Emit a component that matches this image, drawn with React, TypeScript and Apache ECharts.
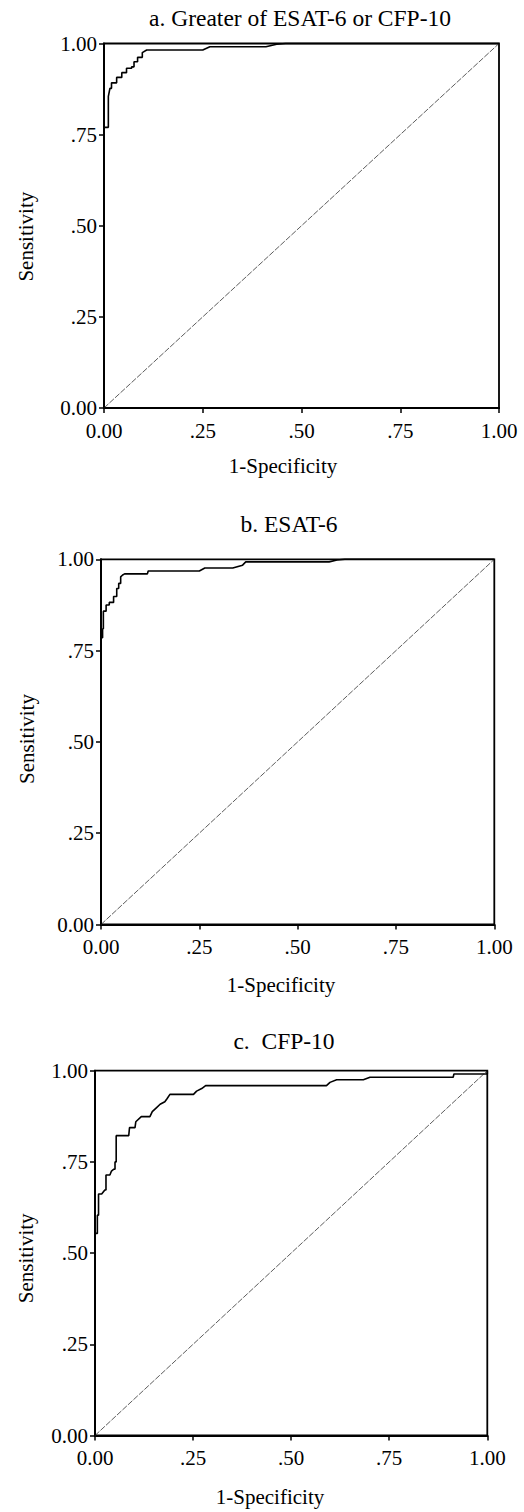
import React, { useEffect, useRef } from "react";
import * as echarts from "echarts";

// Tick positions and their printed labels (shared by both axes of every panel)
const tickValues = [0, 0.25, 0.5, 0.75, 1];
const tickLabels = ["0.00", ".25", ".50", ".75", "1.00"];

const panelTitles = ["a. Greater of ESAT-6 or CFP-10", "b. ESAT-6", "c.  CFP-10"];
const xAxisName = "1-Specificity";
const yAxisName = "Sensitivity";

// ROC curves: [1 - specificity, sensitivity]
const rocGreater: [number, number][] = [
  [0, 0], [0, 0.77], [0.011, 0.77], [0.011, 0.855], [0.015, 0.877], [0.019, 0.877],
  [0.019, 0.892], [0.032, 0.892], [0.032, 0.907], [0.045, 0.907], [0.045, 0.92],
  [0.057, 0.92], [0.057, 0.932], [0.07, 0.932], [0.07, 0.936], [0.076, 0.936],
  [0.076, 0.95], [0.085, 0.95], [0.085, 0.962], [0.097, 0.962], [0.097, 0.975],
  [0.108, 0.982], [0.25, 0.982], [0.268, 0.991], [0.41, 0.991], [0.437, 0.998],
  [0.46, 1], [1, 1],
];

const rocEsat6: [number, number][] = [
  [0, 0], [0, 0.785], [0.004, 0.785], [0.004, 0.81], [0.006, 0.81], [0.006, 0.858],
  [0.013, 0.858], [0.013, 0.875], [0.021, 0.875], [0.021, 0.882], [0.032, 0.882],
  [0.032, 0.898], [0.04, 0.898], [0.04, 0.92], [0.045, 0.92], [0.045, 0.934],
  [0.05, 0.934], [0.05, 0.952], [0.055, 0.957], [0.06, 0.96], [0.118, 0.96],
  [0.12, 0.968], [0.25, 0.968], [0.264, 0.976], [0.335, 0.976], [0.36, 0.984],
  [0.368, 0.993], [0.58, 0.993], [0.6, 0.998], [0.62, 1], [1, 1],
];

const rocCfp10: [number, number][] = [
  [0, 0], [0, 0.554], [0.006, 0.554], [0.006, 0.604], [0.009, 0.604], [0.009, 0.662],
  [0.017, 0.662], [0.025, 0.673], [0.028, 0.673], [0.028, 0.714], [0.038, 0.714],
  [0.042, 0.725], [0.048, 0.73], [0.051, 0.73], [0.051, 0.75], [0.054, 0.75],
  [0.054, 0.822], [0.086, 0.822], [0.088, 0.844], [0.102, 0.844], [0.104, 0.86],
  [0.118, 0.874], [0.14, 0.874], [0.146, 0.888], [0.157, 0.899], [0.166, 0.908],
  [0.178, 0.915], [0.184, 0.924], [0.191, 0.935], [0.251, 0.935], [0.259, 0.944],
  [0.272, 0.951], [0.282, 0.959], [0.59, 0.959], [0.599, 0.968], [0.616, 0.975],
  [0.684, 0.975], [0.701, 0.982], [0.913, 0.982], [0.915, 0.991], [1, 0.991], [1, 1],
];

// Reference line of no discrimination
const chanceLine: [number, number][] = [[0, 0], [1, 1]];

const curves = [rocGreater, rocEsat6, rocCfp10];

// Layout of the three stacked panels (pixels)
const grids = [
  { left: 104, top: 43.5, width: 395, height: 364.5 },
  { left: 101, top: 559.3, width: 393.3, height: 365.2 },
  { left: 95, top: 1070.7, width: 392.3, height: 364.8 },
];
const titlePos = [[300, 17.5], [289, 524], [284, 1041]];
const xNamePos = [[283, 466], [281, 985], [270, 1497]];
const yNamePos = [[25.5, 236.7], [27, 739], [25.8, 1258.3]];

const FONT = '"Liberation Serif", "Times New Roman", serif';

const fmt = (v: number) => tickLabels[tickValues.indexOf(Math.round(v * 4) / 4)] ?? "";

export default function App() {
  const ref = useRef<HTMLDivElement>(null);

  useEffect(() => {
    if (!ref.current) return;
    const chart = echarts.init(ref.current, undefined, { renderer: "svg" });

    const axisCommon = {
      type: "value" as const,
      min: 0,
      max: 1,
      interval: 0.25,
      splitLine: { show: false },
      axisLine: { show: true, onZero: false, lineStyle: { color: "#000", width: 2 } },
      axisTick: { show: true, inside: false, length: 5, lineStyle: { color: "#000", width: 1.5 } },
    };

    const graphic: any[] = [];
    panelTitles.forEach((t, i) => {
      graphic.push({
        type: "text",
        x: titlePos[i][0],
        y: titlePos[i][1],
        style: { text: t, fontSize: 23.5, fontFamily: FONT, fill: "#000", align: "center", verticalAlign: "middle" },
      });
      graphic.push({
        type: "text",
        x: xNamePos[i][0],
        y: xNamePos[i][1],
        style: { text: xAxisName, fontSize: 21, fontFamily: FONT, fill: "#000", align: "center", verticalAlign: "middle" },
      });
      graphic.push({
        type: "text",
        x: yNamePos[i][0],
        y: yNamePos[i][1],
        rotation: Math.PI / 2,
        style: { text: yAxisName, fontSize: 21, fontFamily: FONT, fill: "#000", align: "center", verticalAlign: "middle" },
      });
    });

    const series: any[] = [];
    curves.forEach((c, i) => {
      series.push({
        type: "line",
        xAxisIndex: i,
        yAxisIndex: i,
        data: chanceLine,
        showSymbol: false,
        symbol: "none",
        silent: true,
        lineStyle: { color: "#333", width: 0.8, type: [6, 1.5] },
      });
      series.push({
        type: "line",
        xAxisIndex: i,
        yAxisIndex: i,
        data: c,
        showSymbol: false,
        symbol: "none",
        silent: true,
        clip: false,
        lineStyle: { color: "#000", width: 1.6 },
      });
    });

    chart.setOption({
      animation: false,
      backgroundColor: "#fff",
      textStyle: { fontFamily: FONT },
      grid: grids.map((g) => ({
        ...g,
        show: true,
        borderColor: "#000",
        borderWidth: 1.8,
        backgroundColor: "transparent",
        containLabel: false,
      })),
      xAxis: grids.map((_, i) => ({
        ...axisCommon,
        gridIndex: i,
        axisLabel: {
          formatter: fmt,
          color: "#000",
          fontSize: 21,
          fontFamily: FONT,
          margin: 12,
          showMinLabel: true,
          showMaxLabel: true,
        },
      })),
      yAxis: grids.map((_, i) => ({
        ...axisCommon,
        gridIndex: i,
        axisLabel: {
          formatter: fmt,
          color: "#000",
          fontSize: 21,
          fontFamily: FONT,
          margin: 7,
          showMinLabel: true,
          showMaxLabel: true,
        },
      })),
      graphic,
      series,
    });

    return () => chart.dispose();
  }, []);

  return (
    <div
      ref={ref}
      style={{ position: "absolute", left: 0, top: 0, width: 524, height: 1512, background: "#fff" }}
    />
  );
}
